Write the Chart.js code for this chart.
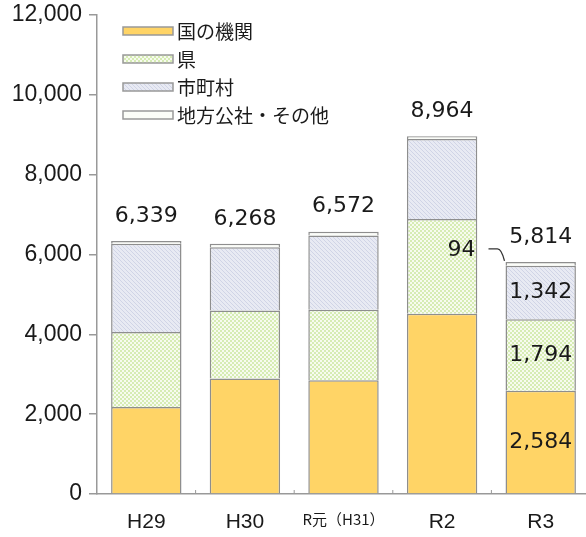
<!DOCTYPE html>
<html><head><meta charset="utf-8">
<script src="https://cdn.jsdelivr.net/npm/chart.js@4.4.1/dist/chart.umd.min.js"></script>
<style>html,body{margin:0;padding:0;overflow:hidden;background:#fff}#wrap{width:590px;height:537px}</style>
</head><body><div id="wrap"><canvas id="c" width="590" height="537"></canvas></div>
<script>
// ---- data ----
const categories = ['H29', 'H30', 'R元（H31）', 'R2', 'R3'];
const seriesNames = ['国の機関', '県', '市町村', '地方公社・その他'];
const national   = [2180, 2892, 2850, 4517, 2584];
const prefecture = [1880, 1708, 1767, 2375, 1794];
const municipal  = [2207, 1583, 1858, 2000, 1342];
const other      = [72, 85, 97, 72, 94];
const yTicks     = [0, 2000, 4000, 6000, 8000, 10000, 12000];

const series = [national, prefecture, municipal, other];
const totals = categories.map((_, i) => series.reduce((s, arr) => s + arr[i], 0));
const fmt = v => v.toLocaleString('en-US');

// ---- patterns ----
function makePattern(size, draw) {
  const c = document.createElement('canvas');
  c.width = size; c.height = size;
  draw(c.getContext('2d'), size);
  return document.getElementById('c').getContext('2d').createPattern(c, 'repeat');
}
const greenPat = makePattern(4, (g) => {
  g.fillStyle = '#d6ecb4'; g.fillRect(0, 0, 4, 4);
  g.fillStyle = '#f7fbef'; g.fillRect(0, 0, 2, 2); g.fillRect(2, 2, 2, 2);
});
const bluePat = makePattern(4, (g) => {
  g.fillStyle = '#e8eaf3'; g.fillRect(0, 0, 4, 4);
  g.fillStyle = '#d0d4e6';
  for (let k = 0; k < 4; k++) g.fillRect(k, k, 1, 1);
});
const fills = ['#ffd466', greenPat, bluePat, '#fbfdf8'];
const borderCol = '#8e8e8e';

const legendPlugin = {
  id: 'customLegend',
  afterDraw(chart) {
    const ctx = chart.ctx;
    ctx.save();
    const rows = [31, 59, 87, 115];
    rows.forEach((y, i) => {
      ctx.fillStyle = fills[i];
      ctx.fillRect(123, y - 4, 50, 8);
      ctx.strokeStyle = '#999'; ctx.lineWidth = 1.5;
      ctx.strokeRect(123, y - 4, 50, 8);
      ctx.fillStyle = '#1a1a1a';
      ctx.font = '19px "Noto Sans CJK JP"';
      ctx.textAlign = 'left'; ctx.textBaseline = 'middle';
      ctx.fillText(seriesNames[i], 177, y + 1);
    });
    const xs = chart.scales.x, area = chart.chartArea;
    ctx.strokeStyle = '#999'; ctx.lineWidth = 1;
    for (let i = 0; i < categories.length - 1; i++) {
      const x = (xs.getPixelForTick(i) + xs.getPixelForTick(i + 1)) / 2;
      ctx.beginPath(); ctx.moveTo(x, area.bottom); ctx.lineTo(x, area.bottom - 4); ctx.stroke();
    }
    ctx.restore();
  }
};

const labelPlugin = {
  id: 'valueLabels',
  afterDatasetsDraw(chart) {
    const ctx = chart.ctx;
    ctx.save();
    ctx.fillStyle = '#1a1a1a';
    ctx.font = '22px "DejaVu Sans"';
    ctx.textAlign = 'center'; ctx.textBaseline = 'middle';
    const topMeta = chart.getDatasetMeta(3);
    totals.forEach((t, i) => {
      const el = topMeta.data[i];
      ctx.fillText(fmt(t), el.x, el.y - 25);
    });
    const last = categories.length - 1;
    [0, 1, 2].forEach(d => {
      const el = chart.getDatasetMeta(d).data[last];
      ctx.fillText(fmt(series[d][last]), el.x, (el.y + el.base) / 2);
    });
    const el = topMeta.data[last];
    const left = el.x - el.width / 2;
    ctx.textAlign = 'right';
    ctx.fillText(fmt(other[last]), left - 30, el.y - 12);
    ctx.strokeStyle = '#333'; ctx.lineWidth = 1.3;
    ctx.beginPath();
    ctx.moveTo(left - 17, el.y - 13);
    ctx.lineTo(left - 8, el.y - 13);
    ctx.quadraticCurveTo(left - 4, el.y - 13, left - 1, el.y - 1);
    ctx.stroke();
    ctx.restore();
  }
};

new Chart(document.getElementById('c'), {
  type: 'bar',
  data: {
    labels: categories,
    datasets: series.map((arr, i) => ({
      label: seriesNames[i],
      data: arr,
      backgroundColor: fills[i],
      borderColor: borderCol,
      borderWidth: 1.5,
      categoryPercentage: 1,
      barPercentage: 0.714
    }))
  },
  options: {
    responsive: false,
    animation: false,
    layout: { padding: { top: 15, left: 0, right: 0, bottom: 0 } },
    plugins: { legend: { display: false }, tooltip: { enabled: false } },
    scales: {
      x: {
        stacked: true,
        grid: { display: false },
        border: { color: '#999', width: 1.5 },
        ticks: {
          padding: 8, color: '#1a1a1a',
          font: (c) => c.index === 2 ? { family: '"Noto Sans CJK JP"', size: 15 } : { family: '"Liberation Sans"', size: 21 }
        },
        afterFit: (s) => { s.height = 43; }
      },
      y: {
        stacked: true, min: 0, max: 12000,
        afterBuildTicks: (s) => { s.ticks = yTicks.map(v => ({ value: v })); },
        ticks: {
          padding: 7, color: '#1a1a1a',
          font: { family: '"Liberation Sans"', size: 23 },
          callback: v => fmt(v)
        },
        grid: { drawOnChartArea: false, drawTicks: true, tickLength: 8, color: '#999', lineWidth: 1.5 },
        border: { color: '#999', width: 1.5 },
        afterFit: (s) => { s.width = 97; s.paddingTop = 0; s.paddingBottom = 0; }
      }
    }
  },
  plugins: [labelPlugin, legendPlugin]
});
</script>
</body></html>
